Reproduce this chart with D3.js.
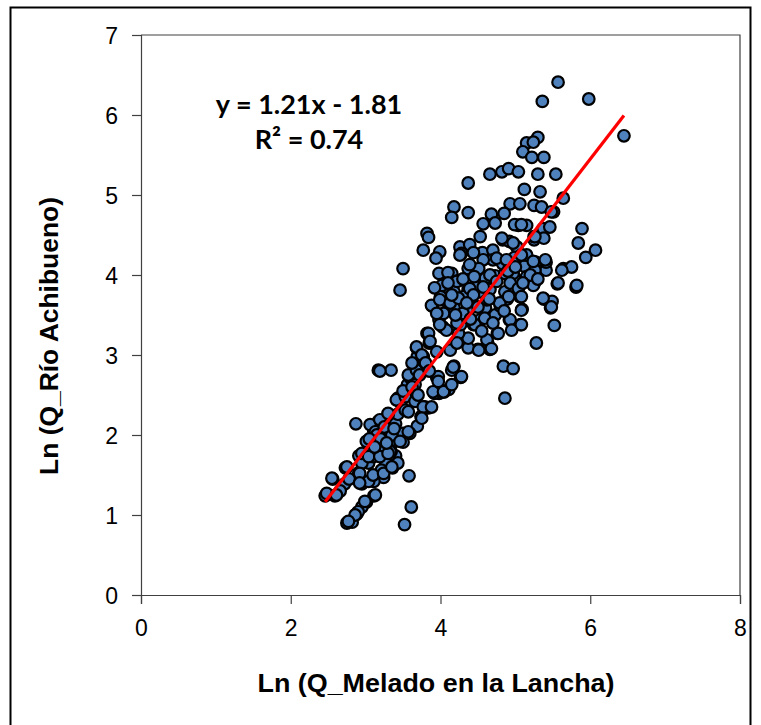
<!DOCTYPE html>
<html>
<head>
<meta charset="utf-8">
<script src="https://cdn.jsdelivr.net/npm/d3@7"></script>
<style>
  html, body { margin: 0; padding: 0; background: #fff; }
  svg { display: block; }
</style>
</head>
<body>
<script>
// ---- Data ----
const xTicks = [0, 2, 4, 6, 8];
const yTicks = [0, 1, 2, 3, 4, 5, 6, 7];
const xTitle = "Ln (Q_Melado en la Lancha)";
const yTitle = "Ln (Q_Río Achibueno)";
const equationText = "y = 1.21x - 1.81";
const r2Text = "R² = 0.74";
const slope = 1.21;
const intercept = -1.81;

const xVals = [
5.57,5.36,5.98,6.45,5.30,5.15,5.24,5.10,5.22,5.38,4.37,4.66,4.82,4.91,5.04,5.30,5.54,5.12,5.33,5.64,
4.93,5.06,5.25,5.51,4.68,4.85,4.57,4.73,5.04,5.15,5.37,5.46,5.89,4.18,4.15,4.37,3.82,3.84,3.77,3.99,
3.94,4.26,4.39,4.53,4.28,4.56,4.70,4.83,4.92,5.02,5.25,5.38,5.84,6.07,5.94,3.50,5.41,5.64,5.75,3.46,
3.98,4.15,4.24,4.37,4.44,4.99,5.08,5.25,5.27,5.41,5.25,5.38,5.49,5.47,5.52,5.28,5.56,5.81,4.84,4.97,
4.86,5.07,4.92,5.09,5.06,4.89,4.76,4.50,4.66,4.63,4.37,4.37,4.44,4.27,4.18,4.15,4.11,4.05,3.98,3.95,
3.92,3.84,3.74,3.79,3.69,3.59,3.50,3.34,3.30,3.36,3.24,3.11,3.11,3.01,2.95,2.88,2.82,2.75,3.58,3.61,
3.52,2.87,3.17,3.34,3.65,3.43,3.56,3.66,3.59,3.69,3.68,3.77,3.82,3.85,3.89,3.98,4.03,4.08,4.18,4.24,
4.27,4.37,4.53,4.60,4.73,4.80,4.86,4.99,4.66,4.53,4.47,4.37,4.31,4.18,4.05,4.00,4.60,4.73,4.86,4.99,
5.12,5.15,4.99,4.83,4.70,4.57,
2.46,2.59,2.56,2.72,2.73,2.91,2.95,3.04,2.91,3.08,3.11,3.17,3.24,3.30,3.40,3.43,3.47,3.53,3.30,3.17,
3.11,3.27,3.21,3.40,3.50,3.43,3.04,2.95,2.78,2.66,3.01,3.21,3.37,3.34,
4.10,4.51,4.39,4.66,4.26,4.97,5.15,5.26,4.75,4.88,5.08,5.24,5.40,5.62,5.57,5.82,4.82,4.97,5.26,5.35,5.48,
4.02,4.22,4.39,4.57,4.75,4.93,5.04,5.24,3.88,3.99,4.13,4.24,4.44,4.62,4.79,4.91,5.08,5.08,5.37,5.48,
4.93,4.95,5.08,4.77,4.62,4.68,4.51,4.46,4.59,4.22,4.08,3.99,3.84,3.86,3.68,3.75,3.95,4.13,4.22,3.19,
3.57,3.97,4.17,4.28,4.04,4.30,3.95,
3.06,3.13,3.19,3.30,3.41,3.53,3.57,3.66,3.77,3.75,3.88,3.90,4.04,3.97,4.15,3.66,3.68,3.35,3.46,3.57,
3.33,3.19,3.01,2.95,3.10,
2.55,2.48,2.61,2.75,2.92,2.92,3.10,3.24,3.35,3.13,2.99,2.90,2.86,2.77,3.04,3.19,3.30,
4.10,4.30,4.50,4.40,4.20,4.65,4.70,4.85,4.15,4.35,3.92,4.45,4.55,4.90,5.00,5.20,5.10,5.30,
3.50,3.62,3.72,3.80,3.85,3.62,3.70,
3.15,3.25,3.20,3.28,3.38,3.05,3.12
];
const yVals = [
6.41,6.17,6.20,5.74,5.72,5.65,5.66,5.54,5.47,5.47,5.15,5.26,5.29,5.33,5.29,5.26,5.26,5.07,5.04,4.96,
4.89,4.89,4.87,4.79,4.76,4.77,4.64,4.65,4.62,4.62,4.58,4.60,4.58,4.85,4.72,4.78,4.52,4.47,4.31,4.29,
4.21,4.35,4.38,4.48,4.27,4.28,4.31,4.44,4.42,4.35,4.44,4.46,4.40,4.31,4.22,4.08,4.06,4.08,4.10,3.81,
4.02,4.02,3.93,4.08,4.28,4.63,4.63,4.48,4.16,4.16,3.89,3.70,3.67,3.59,3.37,3.15,3.89,3.85,2.86,2.83,
2.46,3.38,3.44,3.57,3.73,3.70,3.27,3.07,3.07,3.15,3.09,3.21,3.38,2.72,2.86,2.81,2.57,2.54,2.52,2.72,
2.52,2.34,2.23,2.35,2.11,2.02,1.91,1.88,1.74,1.59,1.47,1.42,1.24,1.16,1.10,1.01,0.91,0.90,1.49,1.10,
0.88,2.14,2.81,2.81,2.54,2.46,2.63,2.83,2.72,2.98,3.09,2.98,3.27,3.15,3.61,3.44,3.35,3.67,3.59,3.27,
3.38,3.56,3.44,3.59,3.50,3.61,3.79,3.85,3.82,3.79,3.85,3.82,3.73,3.79,3.85,3.73,3.96,3.99,4.02,3.96,
4.11,4.25,4.22,4.14,4.19,4.19,
1.24,1.24,1.45,1.39,1.59,1.53,1.39,1.65,1.74,1.88,2.05,2.17,2.00,2.05,2.14,2.26,2.40,2.31,2.26,1.91,
1.74,1.65,1.56,1.74,2.02,1.65,1.42,1.65,1.45,1.30,1.79,1.79,1.94,1.79,
4.03,4.08,4.13,4.00,4.25,4.02,3.98,4.06,4.21,4.19,4.25,4.17,4.19,4.06,3.90,3.87,4.46,4.40,4.48,4.85,4.79,
3.87,3.92,3.83,3.85,3.92,3.90,3.83,3.87,3.62,3.69,3.65,3.71,3.75,3.69,3.65,3.73,3.73,3.56,3.71,3.60,
3.44,3.31,3.38,3.27,3.19,3.08,3.06,3.38,3.46,3.40,3.31,3.38,3.27,3.17,3.10,3.00,3.04,3.06,3.15,2.80,
2.75,2.73,2.85,2.73,3.52,3.52,3.52,
2.13,2.04,2.19,2.27,2.44,2.48,2.29,2.42,2.35,2.21,2.35,2.54,2.54,2.67,2.63,2.63,2.81,2.00,1.92,2.04,
1.79,1.83,1.92,1.77,1.73,
1.46,1.27,1.25,1.60,1.52,1.40,1.50,1.52,1.60,1.25,1.17,1.04,1.00,0.92,1.73,1.73,1.77,
3.90,3.95,3.60,3.45,3.50,3.70,3.40,3.55,3.75,3.65,3.84,3.98,3.30,4.05,4.10,4.00,3.90,3.95,
2.55,2.60,2.75,2.90,2.80,2.90,2.50,
2.00,2.10,1.95,1.90,2.08,1.95,1.85
];

// ---- Layout ----
const W = 761, H = 725;
const plot = { left: 141, right: 740, top: 35, bottom: 595 };

const svg = d3.select("body").append("svg")
  .attr("width", W).attr("height", H);

svg.append("rect").attr("width", W).attr("height", H).attr("fill", "#fff");

// outer chart frame
svg.append("path")
  .attr("d", `M10.5,${H} V7.5 H750.5 V${H}`)
  .attr("fill", "none").attr("stroke", "#000").attr("stroke-width", 2);

const x = d3.scaleLinear().domain([0, 8]).range([plot.left, plot.right]);
const y = d3.scaleLinear().domain([0, 7]).range([plot.bottom, plot.top]);

// plot area border (top & right)
svg.append("path")
  .attr("d", `M${plot.left},${plot.top} H${plot.right} V${plot.bottom}`)
  .attr("fill", "none").attr("stroke", "#404040").attr("stroke-width", 1.2);

// axes
const gx = svg.append("g")
  .attr("transform", `translate(0,${plot.bottom})`)
  .call(d3.axisBottom(x).tickValues(xTicks).tickSize(9).tickPadding(16).tickFormat(d3.format("d")));
const gy = svg.append("g")
  .attr("transform", `translate(${plot.left},0)`)
  .call(d3.axisLeft(y).tickValues(yTicks).tickSize(9).tickPadding(14).tickFormat(d3.format("d")));

[gx, gy].forEach(g => {
  g.select(".domain").attr("stroke", "#404040").attr("stroke-width", 1.2);
  g.selectAll(".tick line").attr("stroke", "#404040").attr("stroke-width", 1.2);
  g.selectAll(".tick text")
    .attr("fill", "#000")
    .style("font-family", "'Liberation Sans', Arial, sans-serif")
    .style("font-size", "23px");
});
gy.selectAll(".tick text").attr("dy", "0.36em");

// points
const pts = xVals.map((v, i) => ({ x: v, y: yVals[i] }));
svg.append("g").selectAll("circle").data(pts).join("circle")
  .attr("cx", d => x(d.x)).attr("cy", d => y(d.y)).attr("r", 5.8)
  .attr("fill", "#4F81BD").attr("stroke", "#000").attr("stroke-width", 2.2);

// regression line
const xMin = d3.min(xVals), xMax = d3.max(xVals);
svg.append("line")
  .attr("x1", x(xMin)).attr("y1", y(slope * xMin + intercept))
  .attr("x2", x(xMax)).attr("y2", y(slope * xMax + intercept))
  .attr("stroke", "#FF0000").attr("stroke-width", 3.2);

// equation
svg.append("text").attr("x", 309).attr("y", 114).attr("text-anchor", "middle")
  .style("font-family", "Lato, 'Open Sans', sans-serif").style("font-weight", "bold")
  .style("font-size", "27px").attr("fill", "#000").text(equationText);
svg.append("text").attr("x", 309).attr("y", 149).attr("text-anchor", "middle")
  .style("font-family", "Lato, 'Open Sans', sans-serif").style("font-weight", "bold")
  .style("font-size", "27px").attr("fill", "#000").text(r2Text);

// axis titles
svg.append("text").attr("x", 436).attr("y", 692).attr("text-anchor", "middle")
  .attr("textLength", 357).attr("lengthAdjust", "spacingAndGlyphs")
  .style("font-family", "'Liberation Sans', Arial, sans-serif").style("font-weight", "bold")
  .style("font-size", "25px").attr("fill", "#000").text(xTitle);
svg.append("text")
  .attr("transform", "translate(58,336) rotate(-90)")
  .attr("text-anchor", "middle")
  .attr("textLength", 278).attr("lengthAdjust", "spacingAndGlyphs")
  .style("font-family", "'Liberation Sans', Arial, sans-serif").style("font-weight", "bold")
  .style("font-size", "25px").attr("fill", "#000").text(yTitle);
</script>
</body>
</html>
